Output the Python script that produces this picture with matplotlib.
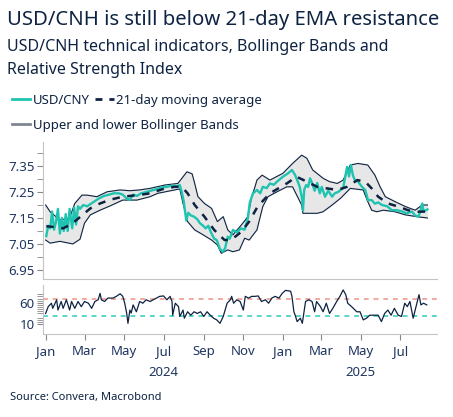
import matplotlib
matplotlib.use("Agg")
import matplotlib.pyplot as plt
import matplotlib.dates as mdates
from matplotlib.lines import Line2D
from matplotlib.ticker import FixedLocator, NullFormatter
import pandas as pd

plt.rcParams['font.family'] = ['Noto Sans', 'DejaVu Sans']

# USD/CNY daily-ish readings
price_dates = ["2024-01-02", "2024-01-05", "2024-01-08", "2024-01-11", "2024-01-14", "2024-01-17",
               "2024-01-20", "2024-01-23", "2024-01-26", "2024-01-29", "2024-02-01", "2024-02-04",
               "2024-02-07", "2024-02-11", "2024-02-14", "2024-02-17", "2024-02-20", "2024-02-23",
               "2024-02-28", "2024-03-05", "2024-03-11", "2024-03-17", "2024-03-23", "2024-03-31",
               "2024-04-08", "2024-04-15", "2024-04-23", "2024-04-29", "2024-05-05", "2024-05-10",
               "2024-05-15", "2024-05-21", "2024-05-27", "2024-06-04", "2024-06-11", "2024-06-21",
               "2024-06-29", "2024-07-06", "2024-07-14", "2024-07-22", "2024-07-26", "2024-07-29",
               "2024-08-01", "2024-08-05", "2024-08-08", "2024-08-12", "2024-08-17", "2024-08-22",
               "2024-08-26", "2024-08-31", "2024-09-04", "2024-09-08", "2024-09-12", "2024-09-17",
               "2024-09-21", "2024-09-26", "2024-10-01", "2024-10-04", "2024-10-08", "2024-10-11",
               "2024-10-16", "2024-10-22", "2024-10-28", "2024-11-03", "2024-11-08", "2024-11-11",
               "2024-11-16", "2024-11-22", "2024-11-27", "2024-12-01", "2024-12-07", "2024-12-12",
               "2024-12-18", "2024-12-23", "2025-01-01", "2025-01-09", "2025-01-15", "2025-01-20",
               "2025-01-24", "2025-01-27", "2025-01-31", "2025-02-01", "2025-02-03", "2025-02-06",
               "2025-02-09", "2025-02-12", "2025-02-15", "2025-02-19", "2025-02-23", "2025-02-27",
               "2025-03-02", "2025-03-07", "2025-03-12", "2025-03-18", "2025-03-22", "2025-03-27",
               "2025-04-04", "2025-04-10", "2025-04-13", "2025-04-16", "2025-04-19", "2025-04-22",
               "2025-04-27", "2025-05-03", "2025-05-08", "2025-05-11", "2025-05-12", "2025-05-18",
               "2025-05-23", "2025-05-28", "2025-06-03", "2025-06-11", "2025-06-18", "2025-06-26",
               "2025-07-04", "2025-07-11", "2025-07-19", "2025-07-24", "2025-07-29", "2025-08-01",
               "2025-08-04", "2025-08-06", "2025-08-12"]
price = [7.080, 7.120, 7.110, 7.175, 7.105, 7.135,
         7.185, 7.090, 7.150, 7.100, 7.165, 7.100,
         7.185, 7.110, 7.190, 7.125, 7.195, 7.185,
         7.200, 7.195, 7.205, 7.215, 7.225, 7.235,
         7.240, 7.245, 7.245, 7.240, 7.225, 7.220,
         7.240, 7.235, 7.245, 7.250, 7.255, 7.262,
         7.268, 7.270, 7.275, 7.272, 7.277, 7.250,
         7.215, 7.140, 7.170, 7.160, 7.155, 7.145,
         7.130, 7.120, 7.110, 7.120, 7.095, 7.070,
         7.065, 7.030, 7.020, 7.035, 7.078, 7.070,
         7.104, 7.095, 7.110, 7.105, 7.150, 7.210,
         7.245, 7.258, 7.245, 7.270, 7.265, 7.283,
         7.278, 7.290, 7.309, 7.322, 7.335, 7.315,
         7.290, 7.270, 7.219, 7.180, 7.260, 7.277,
         7.270, 7.303, 7.285, 7.255, 7.285, 7.245,
         7.270, 7.232, 7.255, 7.232, 7.245, 7.250,
         7.265, 7.347, 7.310, 7.354, 7.315, 7.296,
         7.290, 7.270, 7.258, 7.232, 7.219, 7.219,
         7.205, 7.210, 7.200, 7.195, 7.180, 7.180,
         7.175, 7.168, 7.175, 7.160, 7.155, 7.175,
         7.206, 7.175, 7.183]

# 21-day moving average
ma_dates = ["2024-01-02", "2024-01-08", "2024-01-28", "2024-02-12", "2024-02-26", "2024-03-10",
            "2024-03-25", "2024-04-09", "2024-04-29", "2024-05-25", "2024-06-10", "2024-07-03",
            "2024-07-18", "2024-07-29", "2024-08-07", "2024-08-18", "2024-09-02", "2024-09-17",
            "2024-10-03", "2024-10-13", "2024-10-29", "2024-11-10", "2024-11-23", "2024-12-12",
            "2025-01-07", "2025-01-22", "2025-02-07", "2025-02-23", "2025-03-10", "2025-03-26",
            "2025-04-10", "2025-04-26", "2025-05-08", "2025-05-18", "2025-05-28", "2025-06-12",
            "2025-06-28", "2025-07-13", "2025-07-27", "2025-08-12"]
ma = [7.118, 7.117, 7.110, 7.130, 7.160, 7.187,
      7.206, 7.220, 7.232, 7.239, 7.245, 7.264,
      7.270, 7.270, 7.245, 7.200, 7.155, 7.104,
      7.065, 7.065, 7.097, 7.136, 7.194, 7.245,
      7.283, 7.309, 7.290, 7.270, 7.264, 7.258,
      7.270, 7.296, 7.290, 7.264, 7.232, 7.206,
      7.194, 7.180, 7.174, 7.175]

# Bollinger Bands
upper_dates = ["2024-01-01", "2024-01-08", "2024-01-23", "2024-02-07", "2024-02-15", "2024-02-26",
               "2024-03-05", "2024-03-20", "2024-04-05", "2024-04-25", "2024-05-10", "2024-05-25",
               "2024-06-10", "2024-07-03", "2024-07-23", "2024-08-06", "2024-08-14", "2024-08-18",
               "2024-08-23", "2024-09-02", "2024-09-13", "2024-09-22", "2024-10-01", "2024-10-08",
               "2024-10-16", "2024-10-29", "2024-11-08", "2024-11-14", "2024-11-19", "2024-11-22",
               "2024-11-30", "2024-12-12", "2025-01-01", "2025-01-16", "2025-01-30", "2025-02-07",
               "2025-02-16", "2025-03-04", "2025-03-14", "2025-03-26", "2025-04-04", "2025-04-15",
               "2025-04-27", "2025-05-12", "2025-05-23", "2025-05-31", "2025-06-08", "2025-06-23",
               "2025-07-09", "2025-07-24", "2025-08-04", "2025-08-12"]
upper = [7.200, 7.174, 7.142, 7.150, 7.206, 7.238,
         7.238, 7.232, 7.251, 7.258, 7.255, 7.258,
         7.264, 7.277, 7.283, 7.328, 7.320, 7.283,
         7.232, 7.206, 7.187, 7.136, 7.155, 7.104,
         7.085, 7.123, 7.155, 7.232, 7.270, 7.296,
         7.315, 7.296, 7.322, 7.360, 7.392, 7.380,
         7.335, 7.303, 7.290, 7.283, 7.296, 7.354,
         7.360, 7.354, 7.315, 7.270, 7.232, 7.213,
         7.194, 7.180, 7.200, 7.200]

lower_dates = ["2024-01-01", "2024-01-08", "2024-01-23", "2024-02-12", "2024-02-23", "2024-03-01",
               "2024-03-10", "2024-03-25", "2024-04-09", "2024-04-29", "2024-05-21", "2024-06-10",
               "2024-06-22", "2024-07-18", "2024-07-26", "2024-07-31", "2024-08-07", "2024-08-18",
               "2024-08-31", "2024-09-13", "2024-09-22", "2024-09-28", "2024-10-08", "2024-10-16",
               "2024-10-26", "2024-11-03", "2024-11-10", "2024-11-22", "2024-12-01", "2024-12-09",
               "2024-12-23", "2025-01-07", "2025-01-16", "2025-01-30", "2025-02-01", "2025-02-23",
               "2025-03-04", "2025-03-18", "2025-03-31", "2025-04-15", "2025-05-05", "2025-05-11",
               "2025-05-18", "2025-05-26", "2025-06-05", "2025-06-23", "2025-07-09", "2025-07-27",
               "2025-08-12"]
lower = [7.065, 7.053, 7.060, 7.050, 7.068, 7.130,
         7.162, 7.180, 7.196, 7.219, 7.219, 7.232,
         7.245, 7.258, 7.262, 7.206, 7.136, 7.104,
         7.085, 7.065, 7.046, 7.014, 7.027, 7.020,
         7.027, 7.072, 7.065, 7.104, 7.194, 7.232,
         7.251, 7.270, 7.270, 7.200, 7.168, 7.168,
         7.174, 7.200, 7.226, 7.264, 7.258, 7.219,
         7.180, 7.174, 7.180, 7.174, 7.162, 7.155,
         7.150]

# Relative Strength Index
rsi_dates = ["2024-01-01", "2024-01-05", "2024-01-10", "2024-01-12", "2024-01-18", "2024-01-20",
             "2024-01-25", "2024-01-28", "2024-02-02", "2024-02-07", "2024-02-10", "2024-02-15",
             "2024-02-20", "2024-02-25", "2024-03-01", "2024-03-07", "2024-03-12", "2024-03-17",
             "2024-03-22", "2024-03-25", "2024-03-27", "2024-04-01", "2024-04-06", "2024-04-14",
             "2024-04-19", "2024-04-25", "2024-04-29", "2024-05-02", "2024-05-05", "2024-05-07",
             "2024-05-10", "2024-05-12", "2024-05-15", "2024-05-20", "2024-05-25", "2024-05-30",
             "2024-06-04", "2024-06-10", "2024-06-15", "2024-06-20", "2024-06-25", "2024-07-01",
             "2024-07-06", "2024-07-11", "2024-07-14", "2024-07-15", "2024-07-19", "2024-07-24",
             "2024-07-26", "2024-07-31", "2024-08-02", "2024-08-07", "2024-08-12", "2024-08-17",
             "2024-08-22", "2024-08-27", "2024-09-01", "2024-09-06", "2024-09-11", "2024-09-16",
             "2024-09-21", "2024-09-26", "2024-10-01", "2024-10-07", "2024-10-12", "2024-10-14",
             "2024-10-17", "2024-10-22", "2024-10-27", "2024-11-01", "2024-11-04", "2024-11-09",
             "2024-11-14", "2024-11-19", "2024-11-24", "2024-11-29", "2024-12-05", "2024-12-10",
             "2024-12-15", "2024-12-20", "2024-12-26", "2024-12-31", "2025-01-05", "2025-01-13",
             "2025-01-15", "2025-01-18", "2025-01-20", "2025-01-23", "2025-01-28", "2025-01-31",
             "2025-02-05", "2025-02-10", "2025-02-15", "2025-02-19", "2025-02-22", "2025-02-28",
             "2025-03-04", "2025-03-09", "2025-03-14", "2025-03-19", "2025-03-25", "2025-03-30",
             "2025-04-04", "2025-04-08", "2025-04-11", "2025-04-17", "2025-04-25", "2025-04-30",
             "2025-05-05", "2025-05-10", "2025-05-15", "2025-05-23", "2025-05-28", "2025-06-02",
             "2025-06-07", "2025-06-12", "2025-06-17", "2025-06-22", "2025-06-28", "2025-07-03",
             "2025-07-08", "2025-07-12", "2025-07-16", "2025-07-21", "2025-07-26", "2025-07-30",
             "2025-08-02", "2025-08-06", "2025-08-11"]
rsi = [35, 51, 59, 47, 67, 43,
       63, 47, 67, 43, 63, 47,
       63, 51, 63, 59, 47, 63,
       67, 82, 67, 63, 71, 71,
       75, 81, 75, 59, 36, 12,
       43, 36, 55, 39, 63, 59,
       67, 63, 67, 71, 75, 76,
       67, 75, 63, 31, 59, 51,
       28, 43, 24, 39, 31, 39,
       35, 39, 28, 39, 31, 24,
       20, 12, 28, 59, 67, 75,
       59, 67, 63, 43, 75, 71,
       75, 75, 76, 63, 67, 59,
       71, 75, 71, 82, 89, 87,
       75, 39, 31, 16, 24, 12,
       63, 67, 63, 39, 63, 51,
       39, 59, 35, 47, 63, 75,
       90, 79, 59, 51, 39, 39,
       20, 24, 31, 31, 31, 16,
       35, 43, 31, 47, 31, 28,
       59, 51, 63, 24, 55, 79,
       55, 59, 55]

rsi_overbought = 70
rsi_oversold = 30

month_ticks = ["2024-01-01", "2024-03-01", "2024-05-01", "2024-07-01", "2024-09-01", "2024-11-01",
               "2025-01-01", "2025-03-01", "2025-05-01", "2025-07-01"]
month_labels = ["Jan", "Mar", "May", "Jul", "Sep", "Nov", "Jan", "Mar", "May", "Jul"]

navy = '#0e2341'
teal = '#1ec4b0'
label_col = '#1f3560'
spine_col = '#c4c4c4'

price_dates = pd.to_datetime(price_dates)
ma_dates = pd.to_datetime(ma_dates)
upper_dates = pd.to_datetime(upper_dates)
lower_dates = pd.to_datetime(lower_dates)
rsi_dates = pd.to_datetime(rsi_dates)
month_ticks = pd.to_datetime(month_ticks)
x_start = pd.Timestamp("2023-12-28")
x_end = pd.Timestamp("2025-08-27")

fig = plt.figure(figsize=(4.53, 4.17), dpi=100)
ax = fig.add_axes([0.095, 0.331, 0.87, 0.328])
ax2 = fig.add_axes([0.095, 0.199, 0.87, 0.118], sharex=ax)

# band fill as a polygon through upper then lower (reversed)
poly_x = list(upper_dates) + list(lower_dates[::-1])
poly_y = upper + lower[::-1]
ax.fill(poly_x, poly_y, color='#e7e7e7', zorder=1)
ax.plot(upper_dates, upper, color=navy, lw=0.8, zorder=2)
ax.plot(lower_dates, lower, color=navy, lw=0.8, zorder=2)
ax.plot(price_dates, price, color=teal, lw=1.7, zorder=3)
ax.plot(ma_dates, ma, color=navy, lw=1.8, dashes=(3, 3), zorder=4)

ax.set_ylim(6.915, 7.442)
ax.set_xlim(x_start, x_end)
ax.yaxis.set_major_locator(FixedLocator([6.95, 7.05, 7.15, 7.25, 7.35]))
ax.yaxis.set_minor_locator(FixedLocator([7.00, 7.10, 7.20, 7.30, 7.40]))
ax.yaxis.set_major_formatter(plt.FuncFormatter(lambda v, p: f"{v:.2f}"))
for s in ['top', 'right']:
    ax.spines[s].set_visible(False)
ax.spines['left'].set_color(spine_col)
ax.spines['bottom'].set_color(spine_col)
ax.tick_params(axis='y', which='both', length=4, color='#888888', labelsize=9.5,
               labelcolor=label_col, pad=2)
ax.tick_params(axis='x', which='both', length=0, labelbottom=False)

# RSI panel
ax2.plot(rsi_dates, rsi, color=navy, lw=0.9, zorder=3)
ax2.axhline(rsi_overbought, color='#f2a9a0', lw=1.4, dashes=(2.5, 2.5), zorder=2)
ax2.axhline(rsi_oversold, color='#58d6c8', lw=1.4, dashes=(2.5, 2.5), zorder=2)
ax2.set_ylim(-13, 102)
ax2.yaxis.set_major_locator(FixedLocator([10, 60]))
ax2.yaxis.set_minor_locator(FixedLocator([15, 20, 25, 35, 40, 45, 50, 55, 65, 70, 75, 80]))
ax2.yaxis.set_minor_formatter(NullFormatter())
for s in ['top', 'right']:
    ax2.spines[s].set_visible(False)
ax2.spines['left'].set_color(spine_col)
ax2.spines['bottom'].set_color(spine_col)
ax2.tick_params(axis='y', which='both', length=4, color='#888888', labelsize=9.5,
                labelcolor=label_col, pad=2)
ax2.set_xticks(month_ticks)
ax2.set_xticklabels(month_labels)
ax2.tick_params(axis='x', length=4, color='#888888', labelsize=9.5, labelcolor=label_col, pad=4)

# year labels under the months
trans = ax2.get_xaxis_transform()
ax2.text(pd.Timestamp("2024-07-01"), -0.78, "2024", transform=trans, ha='center', va='center',
         fontsize=9.5, color=label_col)
mid_2025 = pd.Timestamp("2025-01-01") + (x_end - pd.Timestamp("2025-01-01")) / 2
ax2.text(mid_2025, -0.78, "2025", transform=trans, ha='center', va='center',
         fontsize=9.5, color=label_col)

# titles
fig.text(0.015, 0.952, "USD/CNH is still below 21-day EMA resistance", fontsize=14.6,
         fontweight='bold', color=navy, ha='left', va='center')
fig.text(0.015, 0.887, "USD/CNH technical indicators, Bollinger Bands and", fontsize=11.5,
         color=navy, ha='left', va='center')
fig.text(0.015, 0.832, "Relative Strength Index", fontsize=11.5, color=navy, ha='left', va='center')

# legends
h1 = [Line2D([], [], color=teal, lw=2),
      Line2D([], [], color=navy, lw=2, dashes=(2.5, 2.5))]
fig.legend(h1, ["USD/CNY", "21-day moving average"], ncol=2, loc='center left',
           bbox_to_anchor=(0.0, 0.76), frameon=False, fontsize=9.5, handlelength=1.4,
           handletextpad=0.2, columnspacing=0.4, labelcolor=navy)
h2 = [Line2D([], [], color='#7f868f', lw=2)]
fig.legend(h2, ["Upper and lower Bollinger Bands"], loc='center left',
           bbox_to_anchor=(0.0, 0.7), frameon=False, fontsize=9.5, handlelength=1.4,
           handletextpad=0.2, labelcolor=navy)

fig.text(0.022, 0.047, "Source: Convera, Macrobond", fontsize=8, color=navy, ha='left', va='center')

fig.savefig("out.png", dpi=100)
